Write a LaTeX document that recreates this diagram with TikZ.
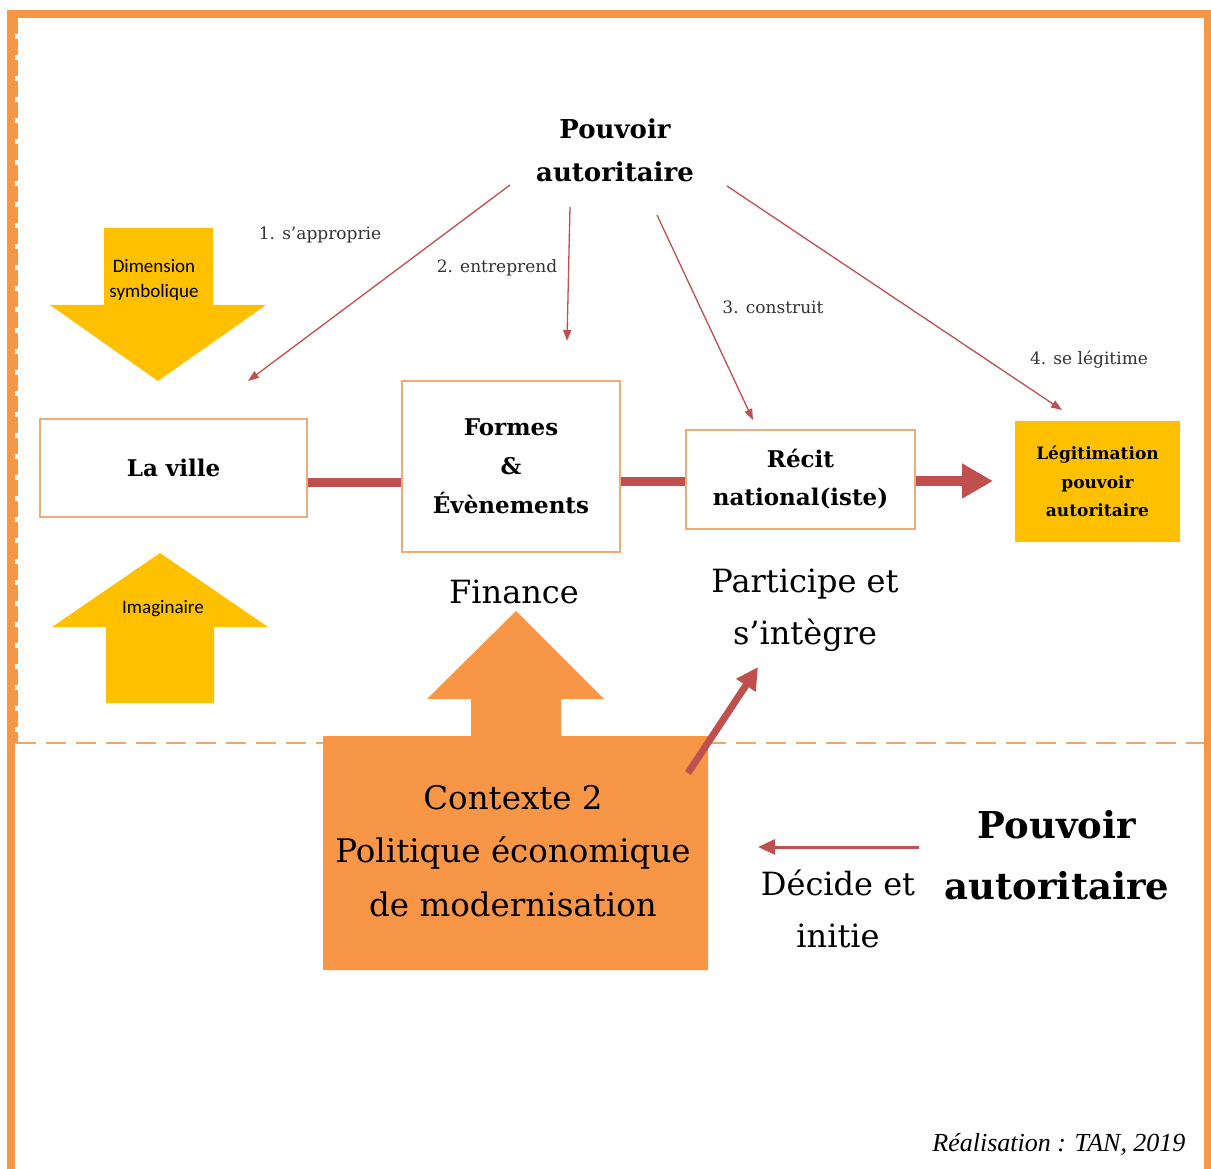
\documentclass[tikz,border=0pt]{standalone}
\usepackage{fontspec}
\setmainfont{DejaVu Serif}
\newfontfamily\calibrifont{Carlito}
\newfontfamily\creditfont{Liberation Serif}
\usetikzlibrary{arrows.meta}
\definecolor{frameor}{HTML}{F79646}
\definecolor{dashor}{HTML}{F5A464}
\definecolor{boxline}{HTML}{F0AA78}
\definecolor{yel}{HTML}{FFC000}
\definecolor{dred}{HTML}{C0504D}
\definecolor{lblgray}{HTML}{333333}
\tikzset{
  whitebox/.style={draw=boxline, line width=1.6pt, fill=white, rectangle, inner sep=0pt, align=center, font=\bfseries\fontsize{23}{38}\selectfont},
  thinarrow/.style={draw=dred, line width=1.3pt, -{Triangle[length=11pt,width=8pt]}},
  barline/.style={draw=dred, line width=9pt},
  steplabel/.style={font=\fontsize{17}{20}\selectfont, text=lblgray},
  bigtext/.style={font=\fontsize{32}{52}\selectfont, align=center},
  sanslabel/.style={font=\calibrifont\fontsize{19}{25}\selectfont, align=center}
}
\begin{document}
\begin{tikzpicture}[x=1pt,y=-1pt]
\useasboundingbox (0,0) rectangle (1211,1169);
\fill[white] (0,0) rectangle (1211,1169);
% frame
\fill[frameor] (7,10) rectangle (1211,18);
\fill[frameor] (7,10) rectangle (15,1169);
\fill[frameor] (1204,10) rectangle (1211,1169);
\draw[frameor, line width=3pt, dash pattern=on 16pt off 5pt] (16.5,18) -- (16.5,743);
\draw[dashor, line width=2.5pt, dash pattern=on 20pt off 10pt] (16,743) -- (1204,743);

% top title
\node[font=\bfseries\fontsize{26}{43}\selectfont, align=center] (toppv) at (615,150) {Pouvoir\\autoritaire};
\coordinate (a1s) at (510,185); \coordinate (a1e) at (248,381);
\coordinate (a2s) at (570,207); \coordinate (a2e) at (567,341);
\coordinate (a3s) at (657,215); \coordinate (a3e) at (753,420);
\coordinate (a4s) at (727,186); \coordinate (a4e) at (1062,410);
\draw[thinarrow] (a1s) -- (a1e);
\draw[thinarrow] (a2s) -- (a2e);
\draw[thinarrow] (a3s) -- (a3e);
\draw[thinarrow] (a4s) -- (a4e);
\node[steplabel] (l1) at (320,235) {1. s’approprie};
\node[steplabel] (l2) at (497,268) {2. entreprend};
\node[steplabel] (l3) at (773,307) {3. construit};
\node[steplabel] (l4) at (1089,360) {4. se légitime};

% yellow arrows
\fill[yel] (104,228) -- (213,228) -- (213,305) -- (266,305) -- (158,381) -- (50,305) -- (104,305) -- cycle;
\node[sanslabel] (dimsym) at (154,280) {Dimension\\symbolique};
\fill[yel] (160,553) -- (268,627) -- (214,627) -- (214,703) -- (106,703) -- (106,627) -- (52,627) -- cycle;
\node[sanslabel] (imag) at (163,609) {Imaginaire};

% main boxes
\node[whitebox, minimum width=267pt, minimum height=98pt] (ville) at (173.5,468) {La ville};
\node[whitebox, minimum width=218pt, minimum height=171pt] (formes) at (511,466.5) {Formes\\[1pt]\&\\[1pt]Évènements};
\node[whitebox, minimum width=229pt, minimum height=99pt] (recit) at (800.5,479.5) {Récit\\national(iste)};
\node[fill=yel, rectangle, inner sep=0pt, minimum width=165pt, minimum height=121pt, align=center, font=\bfseries\fontsize{17}{28.5}\selectfont] (legit) at (1097.5,481.5) {Légitimation\\pouvoir\\autoritaire};

\draw[barline] (ville.east |- 0,482) -- (formes.west |- 0,482);
\draw[barline] (formes.east |- 0,481) -- (recit.west |- 0,481);
\coordinate (tipL) at (993,481);
\draw[dred, line width=10pt, -{Triangle[length=31pt,width=33pt]}] (recit.east |- 0,481) -- (tipL);

% texts under
\node[bigtext] (finance) at (514,592) {Finance};
\node[bigtext] (particip) at (805,610) {Participe et\\s’intègre};

% orange house
\fill[frameor] (323,736) -- (471,736) -- (471,699) -- (427,699) -- (516,611) -- (604,699) -- (561,699) -- (561,736) -- (708,736) -- (708,970) -- (323,970) -- cycle;
\node[font=\fontsize{32.5}{53.5}\selectfont, align=center] (ctx) at (513,851) {Contexte 2\\Politique économique\\de modernisation};
\coordinate (ctxout) at (688,773);
\coordinate (partin) at (758,667);
\draw[dred, line width=7pt, -{Triangle[length=22pt,width=22pt]}] (ctxout) -- (partin);

% bottom right
\node[font=\bfseries\fontsize{37}{61}\selectfont, align=center] (botpv) at (1057,855) {Pouvoir\\autoritaire};
\node[bigtext] (decide) at (838,909) {Décide et\\initie};
\coordinate (decL) at (758,847);
\draw[dred, line width=3pt, -{Triangle[length=17pt,width=15pt]}] (botpv.west |- 0,847) ++(-22,0) -- (decL);

% credit
\node[anchor=east, font=\creditfont\itshape\fontsize{26}{30}\selectfont] (credit) at (1189,1144) {Réalisation : TAN, 2019};
\end{tikzpicture}
\end{document}
